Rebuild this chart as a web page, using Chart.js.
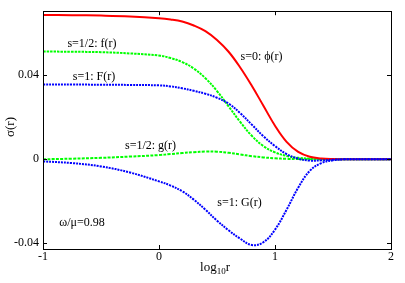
<!DOCTYPE html>
<html>
<head>
<meta charset="UTF-8">
<title>sigma(r)</title>
<script src="https://cdn.jsdelivr.net/npm/chart.js"></script>
<style>
  body { margin: 0; background: #fff; }
</style>
</head>
<body>
<canvas id="grafico" width="405" height="283"></canvas>
<script>
// log10 r grid
const logR = [-1, -0.75, -0.5, -0.25, 0, 0.1, 0.2, 0.3, 0.4, 0.5, 0.6, 0.7, 0.8, 0.9, 1.0, 1.1, 1.2, 1.3, 1.4, 1.5, 1.6, 1.8, 2];

const phi0 = [0.0687, 0.0686, 0.0684, 0.0680, 0.0672, 0.0666, 0.0656, 0.0637, 0.0610, 0.0568, 0.0512, 0.0437, 0.0350, 0.0255, 0.0160, 0.0083, 0.0035, 0.0012, 0.0004, 0.0001, 0, 0, 0];
const fHalf = [0.0513, 0.0512, 0.0510, 0.0504, 0.0494, 0.0482, 0.0463, 0.0432, 0.0386, 0.0325, 0.0252, 0.0178, 0.0112, 0.0063, 0.0033, 0.0016, 0.0007, 0.0003, 0.0001, 0, 0, 0, 0];
const gHalf = [0, 0.0003, 0.0007, 0.0013, 0.0020, 0.0025, 0.0030, 0.0034, 0.0037, 0.0036, 0.0031, 0.0023, 0.0015, 0.0009, 0.0005, 0.0002, 0.0001, 0, 0, 0, 0, 0, 0];
const fOne = [0.0356, 0.0356, 0.0355, 0.0354, 0.0352, 0.0347, 0.0338, 0.0326, 0.0312, 0.0293, 0.0265, 0.0220, 0.0165, 0.0110, 0.0063, 0.0025, 0.0003, -0.0006, -0.0005, -0.0002, 0, 0, 0];
const gOne = [-0.0010, -0.0018, -0.0034, -0.0063, -0.0105, -0.0125, -0.0152, -0.0192, -0.0240, -0.0292, -0.0338, -0.0378, -0.0408, -0.0395, -0.0335, -0.0240, -0.0135, -0.0055, -0.0018, -0.0005, 0, 0, 0];

const xTicks = [-1, 0, 1, 2];
const xTickLabels = ['-1', '0', '1', '2'];
const yTicks = [-0.04, 0, 0.04];
const yTickLabels = ['-0.04', '0', '0.04'];

// texts placed at data coordinates
const notes = [
  { text: 's=0: \u03d5(r)', x: 0.884, y: 0.049 },
  { text: 's=1/2: f(r)', x: -0.578, y: 0.0551 },
  { text: 's=1: F(r)', x: -0.560, y: 0.0391 },
  { text: 's=1/2: g(r)', x: -0.073, y: 0.0065 },
  { text: 's=1: G(r)', x: 0.694, y: -0.0205 },
  { text: '\u03c9/\u03bc=0.98', x: -0.664, y: -0.0304 }
];

const serif = '"Liberation Serif", "DejaVu Serif", serif';

function pontos(valores) {
  return logR.map((x, i) => ({ x: x, y: valores[i] }));
}

function serie(valores, cor, tracejado) {
  return {
    data: pontos(valores),
    borderColor: cor,
    borderWidth: 2,
    borderDash: tracejado,
    pointRadius: 0,
    tension: 0.4,
    fill: false
  };
}

const decor = {
  id: 'decor',
  afterDraw(chart) {
    const { ctx, chartArea: a, scales: { x, y } } = chart;
    ctx.save();
    ctx.strokeStyle = '#000';
    ctx.lineWidth = 1;
    ctx.strokeRect(Math.round(a.left) + 0.5, Math.round(a.top) + 0.5,
      Math.round(a.right - a.left), Math.round(a.bottom - a.top));

    ctx.beginPath();
    xTicks.forEach(v => {
      const px = Math.round(x.getPixelForValue(v)) + 0.5;
      ctx.moveTo(px, a.bottom); ctx.lineTo(px, a.bottom - 4);
      ctx.moveTo(px, a.top); ctx.lineTo(px, a.top + 4);
    });
    yTicks.forEach(v => {
      const py = Math.round(y.getPixelForValue(v)) + 0.5;
      ctx.moveTo(a.left, py); ctx.lineTo(a.left + 4, py);
      ctx.moveTo(a.right, py); ctx.lineTo(a.right - 4, py);
    });
    ctx.stroke();

    ctx.fillStyle = '#000';
    ctx.font = '12px ' + serif;
    ctx.textAlign = 'center';
    ctx.textBaseline = 'middle';
    notes.forEach(n => {
      ctx.fillText(n.text, x.getPixelForValue(n.x), y.getPixelForValue(n.y));
    });

    // x axis title: log10 r
    const cx = (a.left + a.right) / 2 - 2;
    ctx.textAlign = 'left';
    ctx.font = '13px ' + serif;
    const w1 = ctx.measureText('log').width;
    ctx.font = '9px ' + serif;
    const w2 = ctx.measureText('10').width;
    ctx.font = '13px ' + serif;
    const w3 = ctx.measureText('r').width;
    let sx = cx - (w1 + w2 + w3) / 2;
    ctx.fillText('log', sx, 268);
    ctx.font = '9px ' + serif;
    ctx.fillText('10', sx + w1, 272);
    ctx.font = '13px ' + serif;
    ctx.fillText('r', sx + w1 + w2, 268);

    // y axis title
    ctx.translate(11, 127);
    ctx.rotate(-Math.PI / 2);
    ctx.textAlign = 'center';
    ctx.fillText('\u03c3(r)', 0, 0);
    ctx.restore();
  }
};

new Chart(document.getElementById('grafico'), {
  type: 'line',
  data: {
    datasets: [
      serie(fOne, '#0000ff', [2, 1]),
      serie(gOne, '#0000ff', [2, 1]),
      serie(phi0, '#ff0000', []),
      serie(fHalf, '#00ff00', [2.5, 1]),
      serie(gHalf, '#00ff00', [3, 1.3])
    ]
  },
  options: {
    responsive: false,
    animation: false,
    layout: { padding: { top: 9, right: 14, left: 0, bottom: 0 } },
    plugins: { legend: { display: false }, tooltip: { enabled: false } },
    scales: {
      x: {
        type: 'linear',
        min: -1,
        max: 2,
        afterBuildTicks: s => { s.ticks = xTicks.map(v => ({ value: v })); },
        afterFit: s => { s.height = 34; },
        grid: { display: false, drawTicks: false, tickLength: 0 },
        border: { display: false },
        ticks: {
          padding: 1,
          color: '#000',
          font: { family: serif, size: 12 },
          maxRotation: 0,
          callback: (v, i) => xTickLabels[i]
        }
      },
      y: {
        min: -0.0427,
        max: 0.0705,
        afterBuildTicks: s => { s.ticks = yTicks.map(v => ({ value: v })); },
        afterFit: s => { s.width = 43; },
        grid: { display: false, drawTicks: false, tickLength: 0 },
        border: { display: false },
        ticks: {
          padding: 4,
          color: '#000',
          font: { family: serif, size: 12 },
          callback: (v, i) => yTickLabels[i]
        }
      }
    }
  },
  plugins: [decor]
});
</script>
</body>
</html>
